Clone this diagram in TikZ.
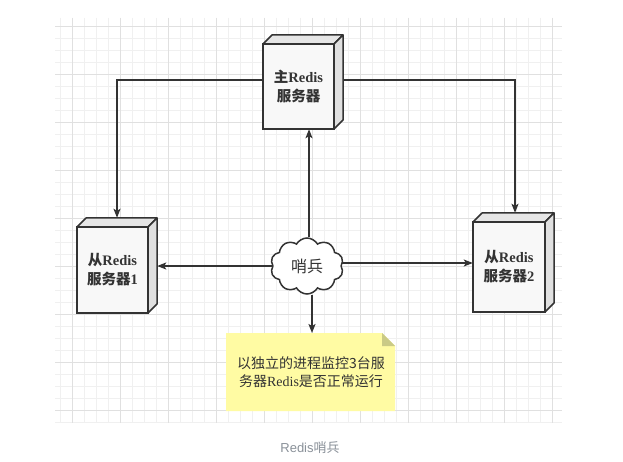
\documentclass[tikz,border=0pt]{standalone}
\usepackage{fontspec}
\setmainfont{Liberation Serif}
\setsansfont{Liberation Sans}
\newfontfamily\cjk{Noto Sans CJK SC}
\usetikzlibrary{shapes.symbols,arrows.meta}
\definecolor{linec}{HTML}{333333}
\definecolor{gridminor}{HTML}{F0F0F0}
\definecolor{gridmajor}{HTML}{E0E0E0}
\definecolor{frontc}{HTML}{F8F8F8}
\definecolor{topc}{HTML}{E6E6E6}
\definecolor{sidec}{HTML}{E0E0E0}
\definecolor{notec}{HTML}{FFFBA3}
\definecolor{foldc}{HTML}{CACA86}
\definecolor{capc}{HTML}{8A9199}
\newcommand\mycube[6]{%
  \fill[frontc] (#2,{#3+9}) rectangle ({#4-9},#5);
  \filldraw[topc,draw=linec,line width=1.5pt,line join=round] (#2,{#3+9}) -- ({#2+9},#3) -- (#4,#3) -- ({#4-9},{#3+9}) -- cycle;
  \filldraw[sidec,draw=linec,line width=1.5pt,line join=round] ({#4-9},{#3+9}) -- (#4,#3) -- (#4,{#5-9}) -- ({#4-9},#5) -- cycle;
  \draw[linec,line width=1.5pt] (#2,{#3+9}) rectangle ({#4-9},#5);
  \node[boxlabel] at ({(#2+#4-9)/2},{(#3+9+#5)/2}) {#6};
  \node[inner sep=0,minimum width={(#4-#2)*1pt},minimum height={(#5-#3)*1pt}] (#1) at ({(#2+#4)/2},{(#3+#5)/2}) {};
}
\begin{document}
\begin{tikzpicture}[x=1pt,y=-1pt,
  minor/.style={gridminor,line width=0.8pt},
  major/.style={gridmajor,line width=0.8pt},
  conn/.style={linec,line width=1.5pt,-{Stealth[length=9pt,width=7pt,inset=2pt]}},
  boxlabel/.style={align=center,font=\fontsize{14.5}{19}\selectfont\bfseries,text=linec,inner sep=0},
  notelabel/.style={align=center,font=\fontsize{14}{18}\selectfont,text=linec,inner sep=0},
]
\useasboundingbox (0,0) rectangle (623,462);
\fill[white] (0,0) rectangle (623,462);
\begin{scope}
\clip (55,18) rectangle (562,423);
\foreach \x in {60,72,...,552} \draw[minor] (\x,18) -- (\x,423);
\foreach \y in {26,38,...,422} \draw[minor] (55,\y) -- (562,\y);
\foreach \x in {72,120,...,552} \draw[major] (\x,18) -- (\x,423);
\foreach \y in {26,74,...,410} \draw[major] (55,\y) -- (562,\y);
\end{scope}

\mycube{m}{263}{35}{343}{129}{{\cjk 主}Redis\\{\cjk 服务器}}
\mycube{sa}{77}{218}{157}{313}{{\cjk 从}Redis\\{\cjk 服务器}1}
\mycube{sb}{473}{213}{554}{312}{{\cjk 从}Redis\\{\cjk 服务器}2}

\node[cloud,cloud puffs=10,cloud puff arc=120,aspect=1.3,draw=linec,line width=1.5pt,fill=white,
  minimum width=73pt,minimum height=56pt,inner sep=0,font=\cjk\fontsize{16}{18}\selectfont,text=linec]
  (c) at (307,266) {哨兵};

% note
\fill[notec] (226,333) -- (382,333) -- (395,346) -- (395,411) -- (226,411) -- cycle;
\fill[foldc] (382,333) -- (395,346) -- (382,346) -- cycle;
\node[notelabel] (note) at (311,372) {{\cjk 以独立的进程监控3台服}\\{\cjk 务器}Redis{\cjk 是否正常运行}};
\coordinate (notetop) at (312,333);

\draw[conn] ([yshift=2pt]m.west) -| (sa.north);
\draw[conn] ([yshift=2pt]m.east) -| ([xshift=1.5pt]sb.north);
\draw[conn] ([xshift=2pt]c.north) -- ([xshift=2pt]c.north |- m.south);
\draw[conn] (c.west) -- (c.west -| sa.east);
\draw[conn] ([yshift=3pt]c.east) -- ([yshift=3pt]c.east -| sb.west);
\draw[conn] (c.south -| notetop) -- (notetop);

\node[font=\sffamily\fontsize{13}{15}\selectfont,text=capc] (cap) at (310,448) {Redis{\cjk 哨兵}};
\end{tikzpicture}
\end{document}
